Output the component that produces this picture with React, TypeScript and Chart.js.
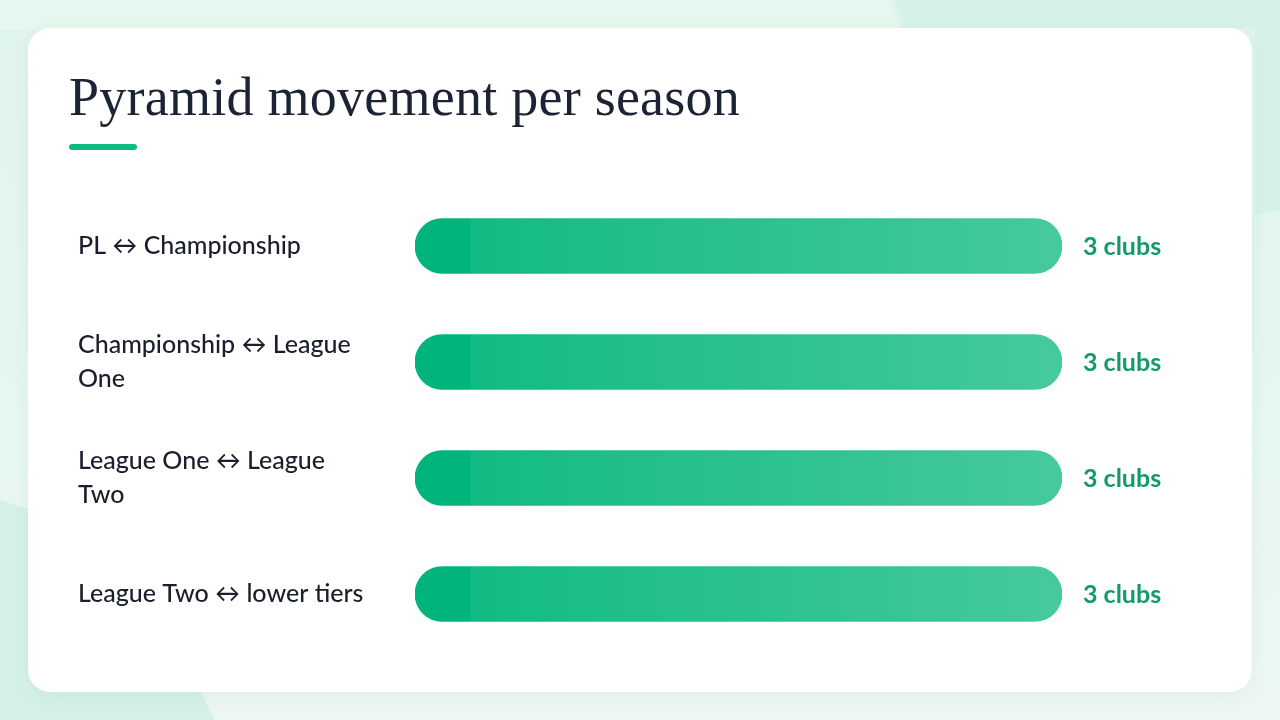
import React, { useEffect, useRef } from 'react';
import { Chart, registerables } from 'chart.js';

Chart.register(...registerables);

const categories: (string | string[])[] = [
  'PL ↔ Championship',
  ['Championship ↔ League', 'One'],
  ['League One ↔ League', 'Two'],
  'League Two ↔ lower tiers',
];
const clubsMoving = [3, 3, 3, 3];
const valueLabels = ['3 clubs', '3 clubs', '3 clubs', '3 clubs'];
const axisMax = 3;

const SANS = 'Lato, "Noto Sans", sans-serif';

const valueLabelPlugin = {
  id: 'valueLabels',
  afterDatasetsDraw(chart: any) {
    const { ctx } = chart;
    const meta = chart.getDatasetMeta(0);
    ctx.save();
    ctx.font = `700 25px ${SANS}`;
    ctx.fillStyle = '#129a6d';
    ctx.textBaseline = 'middle';
    ctx.textAlign = 'left';
    meta.data.forEach((bar: any, i: number) => {
      ctx.fillText(valueLabels[i], bar.x + 21, bar.y + 1);
    });
    ctx.restore();
  },
};

const MovementChart: React.FC = () => {
  const canvasRef = useRef<HTMLCanvasElement>(null);
  const chartRef = useRef<Chart | null>(null);

  useEffect(() => {
    if (!canvasRef.current) return;
    if (chartRef.current) chartRef.current.destroy();

    chartRef.current = new Chart(canvasRef.current, {
      type: 'bar',
      data: {
        labels: categories,
        datasets: [
          {
            data: clubsMoving,
            backgroundColor: (c: any) => {
              const area = c.chart.chartArea;
              if (!area) return '#1dbd88';
              const g = c.chart.ctx.createLinearGradient(area.left, 0, area.right, 0);
              g.addColorStop(0, '#00b47b');
              g.addColorStop(0.085, '#00b47b');
              g.addColorStop(0.086, '#12ba83');
              g.addColorStop(1, '#46c99d');
              return g;
            },
            borderRadius: 28,
            borderSkipped: false,
            barThickness: 55,
          },
        ],
      },
      options: {
        indexAxis: 'y',
        animation: false,
        responsive: true,
        maintainAspectRatio: false,
        layout: { padding: { left: 50, right: 190, top: 0, bottom: 0 } },
        plugins: {
          legend: { display: false },
          tooltip: { enabled: false },
        },
        scales: {
          x: { display: false, min: 0, max: axisMax },
          y: {
            grid: { display: false },
            border: { display: false },
            afterFit: (scale: any) => {
              scale.width = 337;
            },
            ticks: {
              crossAlign: 'far',
              color: '#1b1f2b',
              font: { family: SANS, size: 25, weight: 500, lineHeight: 1.36 },
            },
          },
        },
      },
      plugins: [valueLabelPlugin],
    });

    return () => {
      if (chartRef.current) {
        chartRef.current.destroy();
        chartRef.current = null;
      }
    };
  }, []);

  return <canvas ref={canvasRef} />;
};

export default function App() {
  return (
    <div
      style={{
        position: 'fixed',
        left: 0,
        top: 0,
        width: 1280,
        height: 720,
        overflow: 'hidden',
        background: 'linear-gradient(180deg, #dff4ec 0%, #e6f6f0 60%, #ecf7f3 100%)',
      }}
    >
      {/* soft background shapes */}
      <div
        style={{
          position: 'absolute',
          inset: 0,
          background: '#d5f1e6',
          clipPath: 'polygon(0 500px, 60px 520px, 200px 690px, 215px 720px, 0 720px)',
        }}
      />
      <div
        style={{
          position: 'absolute',
          inset: 0,
          background: '#e6f7f0',
          clipPath: 'polygon(0 0, 890px 0, 900px 30px, 0 30px)',
        }}
      />
      <div
        style={{
          position: 'absolute',
          inset: 0,
          background: '#d6f2e7',
          clipPath: 'polygon(895px 0, 1280px 0, 1280px 210px, 1255px 215px, 1255px 28px, 905px 28px)',
        }}
      />
      <div
        style={{
          position: 'absolute',
          left: 28,
          top: 28,
          width: 1224,
          height: 664,
          borderRadius: 22,
          background: '#ffffff',
          boxShadow: '0 4px 18px rgba(20, 80, 60, 0.05)',
        }}
      >
        <div
          style={{
            position: 'absolute',
            left: 41,
            top: 37,
            fontFamily: '"Liberation Serif", "DejaVu Serif", serif',
            fontSize: 54,
            letterSpacing: 0.25,
            lineHeight: '64px',
            color: '#1b2334',
            whiteSpace: 'nowrap',
          }}
        >
          Pyramid movement per season
        </div>
        <div
          style={{
            position: 'absolute',
            left: 41,
            top: 116,
            width: 68,
            height: 6,
            borderRadius: 3,
            background: '#10b981',
          }}
        />
        <div style={{ position: 'absolute', left: 0, top: 140, width: 1224, height: 504 }}>
          <MovementChart />
        </div>
      </div>
    </div>
  );
}
